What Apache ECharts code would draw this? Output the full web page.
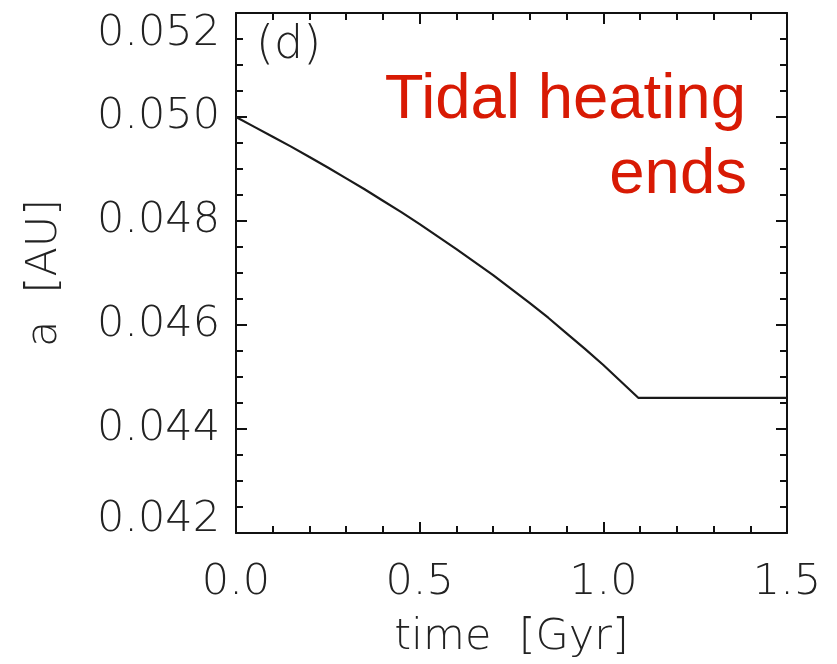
<!DOCTYPE html>
<html>
<head>
<meta charset="utf-8">
<script src="https://cdn.jsdelivr.net/npm/echarts@6/dist/echarts.min.js"></script>
<style>html,body{margin:0;padding:0;background:#fff}#c{width:837px;height:664px}</style>
</head>
<body>
<div id="c"></div>
<script>
// time [Gyr] and semi-major axis a [AU]
var timeGyr = [0.00,0.05,0.10,0.15,0.20,0.25,0.30,0.35,0.40,0.45,0.50,0.55,0.60,0.65,0.70,0.75,0.80,0.85,0.90,0.95,1.00,1.05,1.095,1.20,1.30,1.40,1.50];
var aAU =     [0.05000,0.04981,0.04962,0.04943,0.04923,0.04903,0.04882,0.04861,0.04839,0.04817,0.04794,0.04770,0.04746,0.04721,0.04696,0.04669,0.04642,0.04614,0.04584,0.04554,0.04523,0.04490,0.04460,0.04460,0.04460,0.04460,0.04460];
var xTicks = [0.0, 0.5, 1.0, 1.5];
var yTicks = [0.042, 0.044, 0.046, 0.048, 0.050, 0.052];
var panelLabel = '(d)';
var noteLines = ['Tidal heating', 'ends'];

var FONT = 'DejaVu Sans';
var TXT = '#222';
var points = timeGyr.map(function (t, i) { return [t, aAU[i]]; });

var axisLineStyle = { show: true, onZero: false, lineStyle: { color: '#111', width: 2 } };
function xAxis(pos, showLabels) {
  return {
    type: 'value', position: pos, min: xTicks[0], max: xTicks[xTicks.length - 1], interval: 0.5,
    axisLine: axisLineStyle,
    axisTick: { show: true, inside: true, length: 11, lineStyle: { color: '#111', width: 2 } },
    minorTick: { show: true, splitNumber: 5, length: 7, lineStyle: { color: '#111', width: 2 } },
    splitLine: { show: false },
    axisLabel: { show: showLabels, margin: 28, fontFamily: FONT, fontSize: 43, fontWeight: 200, color: TXT,
      formatter: function (v) { return v.toFixed(1); } },
    name: showLabels ? 'time  [Gyr]' : '', nameLocation: 'middle', nameGap: 83,
    nameTextStyle: { fontFamily: FONT, fontSize: 43, fontWeight: 200, color: TXT }
  };
}
function yAxis(pos, showLabels) {
  return {
    type: 'value', position: pos, min: yTicks[0], max: yTicks[yTicks.length - 1], interval: 0.002,
    axisLine: axisLineStyle,
    axisTick: { show: true, inside: true, length: 11, lineStyle: { color: '#111', width: 2 } },
    minorTick: { show: true, splitNumber: 4, length: 7, lineStyle: { color: '#111', width: 2 } },
    splitLine: { show: false },
    axisLabel: { show: showLabels, margin: 16, fontFamily: FONT, fontSize: 43, fontWeight: 200, color: TXT,
      lineHeight: 26, padding: [8, 0, 0, 0],
      verticalAlignMaxLabel: 'top', verticalAlignMinLabel: 'bottom',
      formatter: function (v) { return v.toFixed(3); } },
    name: showLabels ? 'a  [AU]' : '', nameLocation: 'middle', nameGap: 170, nameRotate: 90,
    nameTextStyle: { fontFamily: FONT, fontSize: 43, fontWeight: 200, color: TXT }
  };
}

var chart = echarts.init(document.getElementById('c'), null, { renderer: 'canvas' });
chart.setOption({
  backgroundColor: '#fff',
  animation: false,
  grid: { left: 236, right: 50, top: 13, bottom: 130, containLabel: false },
  xAxis: [xAxis('bottom', true), xAxis('top', false)],
  yAxis: [yAxis('left', true), yAxis('right', false)],
  series: [{
    type: 'line', xAxisIndex: 0, yAxisIndex: 0, data: points, showSymbol: false,
    lineStyle: { color: '#1a1a1a', width: 2.2 }, z: 3
  }],
  graphic: [
    { type: 'text', left: 256, top: 23, style: { text: panelLabel, fontFamily: FONT, fontSize: 46, fontWeight: 200, fill: TXT } },
    { type: 'text', right: 91, top: 68, style: { text: noteLines[0], fontFamily: 'Liberation Sans', fontSize: 63.5, fill: '#d81a04', textAlign: 'right' } },
    { type: 'text', right: 90, top: 143, style: { text: noteLines[1], fontFamily: 'Liberation Sans', fontSize: 63.5, fill: '#d81a04', textAlign: 'right' } }
  ]
});
</script>
</body>
</html>
